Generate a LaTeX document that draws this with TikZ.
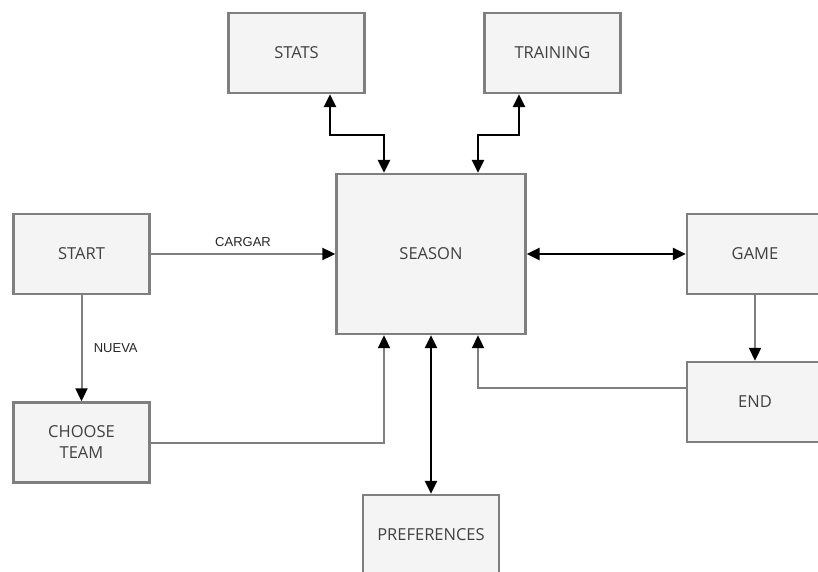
\documentclass[tikz,border=0pt]{standalone}
\usepackage{fontspec}
\setmainfont{Open Sans}
\newfontfamily\labelfont{Liberation Sans}
\usetikzlibrary{arrows.meta}
\definecolor{boxfill}{HTML}{F4F4F4}
\definecolor{boxline}{HTML}{7F7F7F}
\definecolor{boxtext}{HTML}{404040}
\tikzset{
  stage/.style={draw=boxline, line width=2.4pt, fill=boxfill, text=boxtext,
    minimum width=136pt, minimum height=80pt, inner sep=2pt, align=center,
    font=\fontsize{16.5}{21}\selectfont},
  flow/.style={draw=boxline, line width=2pt, -{Triangle[length=13pt,width=12pt,color=black]}},
  both/.style={draw=black, line width=2.6pt, {Triangle[length=13pt,width=12pt]}-{Triangle[length=13pt,width=12pt]}},
  tag/.style={text=black!85, font=\labelfont\fontsize{13}{15}\selectfont}
}
\begin{document}
\begin{tikzpicture}[x=1pt,y=-1pt]
    \useasboundingbox (0,0) rectangle (818,572);
    \clip (0,0) rectangle (818,572);

    % cajas
    \node[stage] (stats) at (296.5,53) {STATS};
    \node[stage] (training) at (552.5,53) {TRAINING};
    \node[stage, minimum width=189pt, minimum height=160pt] (season) at (431,254) {SEASON};
    \node[stage] (start) at (81.5,254) {START};
    \node[stage] (choose) at (81.5,442.5) {CHOOSE\\TEAM};
    \node[stage] (game) at (755,254) {GAME};
    \node[stage] (end) at (755,402) {END};
    \node[stage] (pref) at (431,535) {PREFERENCES};

    % arriba
    \draw[both] ([xshift=33.5pt]stats.south) -- ++(0,41) -| ([xshift=-47pt]season.north);
    \draw[both] ([xshift=-33.5pt]training.south) -- ++(0,41) -| ([xshift=47pt]season.north);

    % izquierda
    \draw[flow] (start.east) -- node[tag, above=3pt] {CARGAR} (season.west);
    \draw[flow] (start.south) -- node[tag, right=8pt] {NUEVA} (choose.north);
    \draw[flow] (choose.east) -| ([xshift=-47pt]season.south);

    % abajo y derecha
    \draw[both] (season.south) -- (pref.north);
    \draw[both] (season.east) -- (game.west);
    \draw[flow] (game.south) -- (end.north);
    \draw[flow] ([yshift=14pt]end.west) -| ([xshift=47pt]season.south);
\end{tikzpicture}
\end{document}
